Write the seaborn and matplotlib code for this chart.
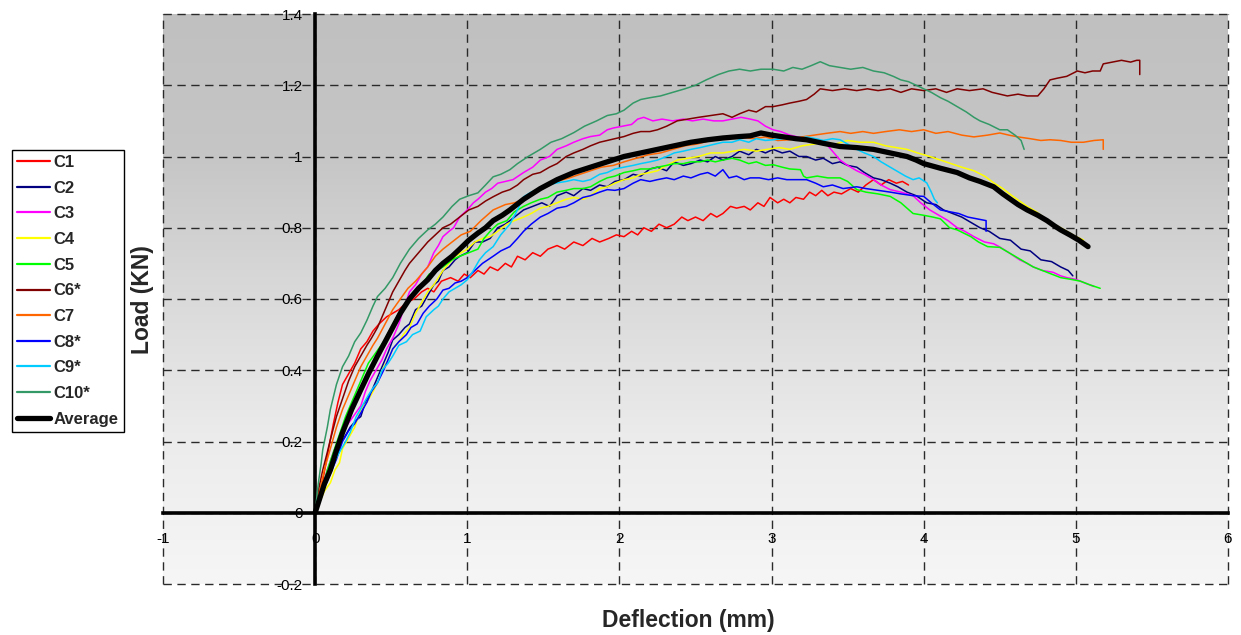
import numpy as np
import pandas as pd
import matplotlib
matplotlib.use("Agg")
import matplotlib.pyplot as plt
import seaborn as sns
from matplotlib.colors import LinearSegmentedColormap

sns.set_style("white")
plt.rcParams['font.family'] = ['Liberation Sans', 'DejaVu Sans']

# ---------------- data (deflection mm, load kN) ----------------
c1 = [(0,0),(0.02,0.05),(0.05,0.09),(0.08,0.16),(0.12,0.25),(0.15,0.31),(0.18,0.36),(0.22,0.39),(0.26,0.42),(0.30,0.46),(0.34,0.48),(0.38,0.51),(0.42,0.53),(0.47,0.55),(0.51,0.56),(0.55,0.57),(0.60,0.59),(0.65,0.60),(0.70,0.62),(0.74,0.63),(0.78,0.62),(0.83,0.65),(0.89,0.66),(0.94,0.65),(0.98,0.67),(1.02,0.66),(1.07,0.68),(1.11,0.67),(1.15,0.69),(1.20,0.68),(1.25,0.70),(1.29,0.69),(1.33,0.72),(1.38,0.71),(1.43,0.73),(1.48,0.72),(1.53,0.74),(1.59,0.75),(1.64,0.74),(1.70,0.76),(1.76,0.75),(1.82,0.77),(1.87,0.76),(1.93,0.77),(1.98,0.78),(2.03,0.775),(2.08,0.79),(2.12,0.78),(2.16,0.80),(2.21,0.79),(2.26,0.81),(2.31,0.80),(2.36,0.81),(2.41,0.83),(2.45,0.82),(2.50,0.83),(2.55,0.82),(2.60,0.84),(2.64,0.83),(2.68,0.84),(2.73,0.86),(2.77,0.855),(2.82,0.86),(2.86,0.85),(2.91,0.87),(2.95,0.86),(2.99,0.885),(3.04,0.87),(3.08,0.88),(3.12,0.87),(3.16,0.885),(3.21,0.88),(3.25,0.90),(3.29,0.89),(3.33,0.905),(3.37,0.89),(3.41,0.90),(3.46,0.895),(3.52,0.91),(3.57,0.90),(3.62,0.92),(3.67,0.935),(3.72,0.92),(3.77,0.935),(3.82,0.925),(3.86,0.93),(3.90,0.92)]
c2 = [(0,0),(0.03,0.05),(0.07,0.10),(0.11,0.15),(0.15,0.19),(0.19,0.21),(0.23,0.24),(0.27,0.26),(0.30,0.27),(0.33,0.31),(0.37,0.34),(0.41,0.38),(0.45,0.42),(0.48,0.45),(0.51,0.485),(0.55,0.50),(0.59,0.52),(0.62,0.53),(0.66,0.57),(0.70,0.58),(0.74,0.61),(0.78,0.64),(0.81,0.65),(0.84,0.68),(0.88,0.69),(0.92,0.71),(0.95,0.72),(1.00,0.73),(1.05,0.76),(1.10,0.76),(1.15,0.77),(1.20,0.80),(1.25,0.81),(1.31,0.83),(1.37,0.85),(1.43,0.86),(1.49,0.87),(1.54,0.86),(1.59,0.89),(1.65,0.90),(1.70,0.89),(1.76,0.91),(1.81,0.905),(1.87,0.92),(1.92,0.915),(1.97,0.93),(2.03,0.935),(2.09,0.95),(2.14,0.945),(2.20,0.965),(2.25,0.97),(2.31,0.96),(2.36,0.985),(2.42,0.975),(2.47,0.98),(2.53,0.99),(2.58,0.985),(2.63,1.0),(2.68,0.99),(2.74,1.0),(2.79,1.015),(2.85,1.005),(2.90,1.02),(2.96,1.01),(3.01,1.02),(3.07,1.01),(3.12,1.015),(3.18,1.0),(3.23,1.0),(3.29,0.99),(3.34,0.995),(3.40,0.98),(3.45,0.985),(3.50,0.975),(3.56,0.97),(3.61,0.955),(3.67,0.94),(3.72,0.935),(3.78,0.925),(3.83,0.915),(3.89,0.90),(3.95,0.89),(4.02,0.87),(4.08,0.865),(4.13,0.85),(4.19,0.84),(4.25,0.83),(4.31,0.815),(4.37,0.80),(4.43,0.79),(4.50,0.77),(4.57,0.765),(4.64,0.74),(4.70,0.735),(4.77,0.71),(4.84,0.705),(4.90,0.69),(4.95,0.68),(4.98,0.665)]
c3 = [(0,0),(0.04,0.06),(0.08,0.12),(0.12,0.17),(0.16,0.21),(0.20,0.24),(0.25,0.27),(0.30,0.30),(0.33,0.34),(0.36,0.37),(0.40,0.40),(0.44,0.43),(0.47,0.46),(0.51,0.49),(0.55,0.53),(0.58,0.57),(0.62,0.62),(0.66,0.64),(0.70,0.67),(0.74,0.69),(0.78,0.73),(0.81,0.75),(0.84,0.775),(0.88,0.79),(0.91,0.80),(0.95,0.83),(1.00,0.85),(1.04,0.87),(1.07,0.88),(1.12,0.90),(1.16,0.91),(1.20,0.925),(1.25,0.93),(1.30,0.935),(1.37,0.955),(1.43,0.97),(1.48,0.99),(1.54,1.0),(1.59,1.02),(1.65,1.03),(1.70,1.04),(1.76,1.05),(1.81,1.056),(1.87,1.06),(1.92,1.075),(1.96,1.08),(2.02,1.085),(2.08,1.09),(2.12,1.105),(2.16,1.11),(2.22,1.10),(2.28,1.105),(2.35,1.10),(2.42,1.105),(2.48,1.10),(2.55,1.105),(2.62,1.10),(2.68,1.10),(2.74,1.105),(2.80,1.11),(2.86,1.105),(2.91,1.10),(2.96,1.085),(3.01,1.075),(3.06,1.07),(3.12,1.06),(3.17,1.055),(3.23,1.05),(3.30,1.04),(3.37,1.03),(3.41,1.01),(3.45,0.99),(3.50,0.975),(3.56,0.96),(3.61,0.95),(3.67,0.935),(3.72,0.92),(3.78,0.907),(3.85,0.90),(3.93,0.89),(3.98,0.87),(4.04,0.85),(4.10,0.835),(4.16,0.82),(4.22,0.80),(4.27,0.79),(4.33,0.775),(4.40,0.76),(4.46,0.755),(4.50,0.746),(4.56,0.73),(4.63,0.71),(4.68,0.70),(4.72,0.69),(4.78,0.68),(4.85,0.675),(4.90,0.665),(4.94,0.66),(5.00,0.655),(5.06,0.645),(5.12,0.635)]
c4 = [(0,0),(0.03,0.03),(0.06,0.06),(0.10,0.084),(0.13,0.12),(0.16,0.14),(0.18,0.18),(0.22,0.21),(0.26,0.24),(0.30,0.29),(0.34,0.31),(0.38,0.34),(0.41,0.365),(0.44,0.40),(0.48,0.43),(0.51,0.46),(0.55,0.48),(0.58,0.50),(0.62,0.52),(0.66,0.56),(0.70,0.59),(0.74,0.62),(0.78,0.64),(0.81,0.66),(0.84,0.68),(0.88,0.70),(0.92,0.72),(0.96,0.73),(1.00,0.74),(1.05,0.76),(1.10,0.77),(1.15,0.775),(1.20,0.79),(1.26,0.81),(1.31,0.82),(1.37,0.83),(1.42,0.84),(1.48,0.855),(1.53,0.86),(1.59,0.87),(1.65,0.88),(1.70,0.885),(1.76,0.88),(1.81,0.89),(1.87,0.91),(1.92,0.915),(1.97,0.925),(2.03,0.935),(2.09,0.94),(2.14,0.95),(2.20,0.955),(2.25,0.96),(2.31,0.975),(2.38,0.99),(2.45,0.995),(2.52,1.0),(2.60,1.01),(2.68,1.01),(2.75,1.015),(2.82,1.02),(2.90,1.015),(2.97,1.02),(3.05,1.025),(3.12,1.02),(3.20,1.03),(3.28,1.035),(3.35,1.04),(3.42,1.035),(3.50,1.045),(3.58,1.04),(3.67,1.04),(3.75,1.03),(3.82,1.025),(3.89,1.02),(3.96,1.01),(4.04,1.0),(4.11,0.99),(4.18,0.98),(4.25,0.97),(4.33,0.96),(4.40,0.945),(4.46,0.926),(4.52,0.91),(4.58,0.89),(4.63,0.875),(4.68,0.86),(4.74,0.845),(4.80,0.825),(4.85,0.81),(4.90,0.80),(4.96,0.785),(5.00,0.775),(5.05,0.766)]
c5 = [(0,0),(0.04,0.06),(0.08,0.12),(0.12,0.17),(0.16,0.22),(0.20,0.27),(0.25,0.32),(0.30,0.37),(0.35,0.42),(0.40,0.45),(0.45,0.48),(0.50,0.52),(0.55,0.56),(0.60,0.59),(0.65,0.62),(0.70,0.64),(0.75,0.67),(0.80,0.68),(0.84,0.69),(0.90,0.71),(0.95,0.72),(1.01,0.73),(1.07,0.74),(1.11,0.77),(1.15,0.79),(1.20,0.81),(1.26,0.82),(1.31,0.845),(1.37,0.86),(1.42,0.87),(1.48,0.88),(1.53,0.885),(1.59,0.90),(1.65,0.905),(1.70,0.91),(1.76,0.91),(1.81,0.915),(1.87,0.93),(1.92,0.94),(1.97,0.945),(2.03,0.955),(2.09,0.96),(2.14,0.965),(2.20,0.965),(2.25,0.97),(2.31,0.975),(2.36,0.98),(2.42,0.98),(2.47,0.985),(2.53,0.985),(2.58,0.99),(2.63,0.985),(2.68,0.99),(2.74,0.995),(2.79,0.99),(2.85,0.98),(2.90,0.985),(2.96,0.975),(3.01,0.977),(3.07,0.97),(3.12,0.965),(3.19,0.963),(3.21,0.945),(3.23,0.94),(3.30,0.945),(3.37,0.94),(3.45,0.94),(3.50,0.93),(3.56,0.907),(3.62,0.90),(3.70,0.895),(3.78,0.888),(3.85,0.87),(3.93,0.84),(4.00,0.835),(4.06,0.83),(4.11,0.825),(4.17,0.80),(4.22,0.794),(4.31,0.775),(4.36,0.76),(4.42,0.747),(4.50,0.745),(4.56,0.73),(4.62,0.715),(4.68,0.70),(4.72,0.69),(4.78,0.68),(4.84,0.67),(4.90,0.66),(4.97,0.655),(5.03,0.65),(5.09,0.64),(5.16,0.63)]
c6 = [(0,0),(0.02,0.06),(0.05,0.12),(0.08,0.17),(0.10,0.205),(0.14,0.27),(0.18,0.32),(0.22,0.37),(0.26,0.41),(0.30,0.44),(0.34,0.47),(0.37,0.49),(0.41,0.52),(0.45,0.56),(0.48,0.59),(0.51,0.62),(0.55,0.65),(0.59,0.68),(0.62,0.70),(0.66,0.72),(0.70,0.74),(0.74,0.76),(0.79,0.78),(0.84,0.80),(0.89,0.81),(0.95,0.83),(1.01,0.85),(1.07,0.86),(1.12,0.875),(1.17,0.887),(1.23,0.90),(1.28,0.907),(1.33,0.92),(1.37,0.935),(1.43,0.95),(1.48,0.955),(1.54,0.97),(1.59,0.98),(1.65,1.0),(1.70,1.01),(1.76,1.02),(1.81,1.03),(1.87,1.04),(1.92,1.045),(1.97,1.05),(2.03,1.056),(2.09,1.065),(2.14,1.07),(2.20,1.07),(2.25,1.075),(2.31,1.085),(2.38,1.10),(2.45,1.105),(2.52,1.11),(2.60,1.115),(2.68,1.12),(2.74,1.11),(2.79,1.12),(2.85,1.13),(2.90,1.125),(2.96,1.14),(3.01,1.14),(3.07,1.145),(3.12,1.15),(3.18,1.155),(3.23,1.16),(3.28,1.175),(3.32,1.19),(3.40,1.185),(3.48,1.19),(3.56,1.185),(3.63,1.19),(3.70,1.185),(3.78,1.19),(3.85,1.18),(3.92,1.19),(4.00,1.185),(4.08,1.19),(4.15,1.18),(4.22,1.19),(4.30,1.185),(4.39,1.19),(4.45,1.18),(4.50,1.175),(4.55,1.17),(4.62,1.175),(4.68,1.17),(4.75,1.17),(4.79,1.19),(4.83,1.215),(4.88,1.22),(4.94,1.225),(5.01,1.24),(5.06,1.235),(5.11,1.24),(5.16,1.24),(5.18,1.26),(5.24,1.265),(5.30,1.27),(5.36,1.265),(5.40,1.27),(5.42,1.27),(5.42,1.23)]
c7 = [(0,0),(0.03,0.06),(0.06,0.12),(0.10,0.18),(0.14,0.24),(0.18,0.29),(0.22,0.33),(0.26,0.37),(0.30,0.41),(0.34,0.44),(0.38,0.47),(0.41,0.49),(0.46,0.53),(0.51,0.57),(0.56,0.60),(0.61,0.63),(0.66,0.65),(0.70,0.67),(0.74,0.69),(0.79,0.72),(0.84,0.74),(0.90,0.76),(0.96,0.78),(1.02,0.79),(1.09,0.82),(1.17,0.85),(1.25,0.865),(1.31,0.87),(1.37,0.88),(1.45,0.90),(1.52,0.915),(1.59,0.93),(1.67,0.94),(1.74,0.95),(1.81,0.96),(1.88,0.97),(1.96,0.975),(2.03,0.985),(2.11,0.995),(2.19,1.005),(2.27,1.01),(2.35,1.02),(2.43,1.03),(2.51,1.035),(2.60,1.045),(2.68,1.05),(2.79,1.055),(2.88,1.05),(2.96,1.055),(3.04,1.045),(3.12,1.047),(3.20,1.055),(3.28,1.06),(3.36,1.065),(3.45,1.07),(3.52,1.065),(3.60,1.07),(3.67,1.065),(3.75,1.07),(3.84,1.075),(3.92,1.07),(4.00,1.075),(4.08,1.065),(4.16,1.07),(4.25,1.06),(4.33,1.055),(4.42,1.06),(4.50,1.066),(4.56,1.06),(4.62,1.055),(4.70,1.05),(4.77,1.045),(4.83,1.047),(4.90,1.045),(4.97,1.04),(5.05,1.04),(5.12,1.045),(5.18,1.047),(5.18,1.02)]
c8 = [(0,0),(0.03,0.03),(0.06,0.07),(0.10,0.11),(0.14,0.15),(0.18,0.20),(0.22,0.23),(0.26,0.25),(0.30,0.28),(0.34,0.31),(0.37,0.34),(0.41,0.365),(0.45,0.40),(0.48,0.43),(0.51,0.46),(0.55,0.48),(0.60,0.50),(0.63,0.52),(0.67,0.53),(0.71,0.56),(0.75,0.58),(0.80,0.60),(0.84,0.625),(0.88,0.63),(0.92,0.645),(0.96,0.65),(1.00,0.66),(1.05,0.68),(1.10,0.70),(1.17,0.72),(1.22,0.735),(1.28,0.747),(1.33,0.77),(1.37,0.79),(1.42,0.81),(1.48,0.83),(1.53,0.84),(1.59,0.855),(1.65,0.86),(1.70,0.87),(1.76,0.885),(1.81,0.89),(1.87,0.90),(1.92,0.907),(1.97,0.905),(2.03,0.91),(2.09,0.925),(2.14,0.935),(2.20,0.93),(2.25,0.935),(2.31,0.94),(2.36,0.935),(2.42,0.945),(2.47,0.94),(2.53,0.95),(2.58,0.955),(2.63,0.945),(2.68,0.963),(2.72,0.94),(2.77,0.945),(2.82,0.935),(2.86,0.94),(2.92,0.94),(2.98,0.935),(3.04,0.94),(3.10,0.935),(3.16,0.935),(3.23,0.935),(3.29,0.925),(3.34,0.915),(3.40,0.92),(3.47,0.91),(3.56,0.915),(3.62,0.91),(3.70,0.905),(3.78,0.90),(3.85,0.895),(3.93,0.89),(4.00,0.888),(4.05,0.87),(4.11,0.85),(4.17,0.845),(4.23,0.84),(4.29,0.83),(4.35,0.825),(4.41,0.82),(4.41,0.79)]
c9 = [(0,0),(0.04,0.05),(0.08,0.10),(0.12,0.14),(0.16,0.17),(0.20,0.20),(0.23,0.225),(0.27,0.27),(0.31,0.30),(0.35,0.33),(0.38,0.35),(0.41,0.365),(0.44,0.40),(0.48,0.42),(0.51,0.44),(0.55,0.47),(0.60,0.48),(0.64,0.50),(0.69,0.51),(0.73,0.55),(0.78,0.57),(0.81,0.58),(0.84,0.60),(0.88,0.62),(0.92,0.63),(0.96,0.64),(1.00,0.654),(1.04,0.68),(1.08,0.71),(1.12,0.73),(1.17,0.747),(1.22,0.78),(1.28,0.81),(1.33,0.85),(1.37,0.887),(1.42,0.90),(1.48,0.91),(1.53,0.92),(1.59,0.926),(1.65,0.93),(1.70,0.935),(1.76,0.93),(1.81,0.935),(1.87,0.95),(1.92,0.955),(1.97,0.965),(2.03,0.97),(2.09,0.975),(2.14,0.98),(2.20,0.985),(2.25,0.99),(2.31,1.0),(2.36,1.01),(2.42,1.015),(2.47,1.02),(2.53,1.025),(2.58,1.03),(2.63,1.035),(2.68,1.04),(2.74,1.04),(2.79,1.047),(2.85,1.04),(2.90,1.05),(2.96,1.045),(3.01,1.047),(3.07,1.05),(3.12,1.055),(3.18,1.05),(3.23,1.055),(3.29,1.05),(3.34,1.045),(3.40,1.05),(3.45,1.047),(3.50,1.035),(3.56,1.02),(3.61,1.01),(3.67,1.0),(3.72,0.985),(3.78,0.97),(3.84,0.955),(3.88,0.945),(3.93,0.935),(3.97,0.94),(4.02,0.926),(4.05,0.90),(4.07,0.88),(4.09,0.87)]
c10 = [(0,0),(0.02,0.08),(0.04,0.14),(0.05,0.177),(0.08,0.24),(0.10,0.29),(0.14,0.36),(0.18,0.41),(0.22,0.44),(0.26,0.48),(0.30,0.505),(0.34,0.54),(0.38,0.58),(0.41,0.607),(0.46,0.63),(0.51,0.66),(0.56,0.70),(0.62,0.74),(0.68,0.77),(0.74,0.794),(0.79,0.81),(0.84,0.83),(0.90,0.86),(0.95,0.88),(1.01,0.89),(1.07,0.898),(1.12,0.92),(1.17,0.943),(1.22,0.95),(1.28,0.963),(1.33,0.98),(1.40,1.0),(1.48,1.02),(1.55,1.04),(1.62,1.05),(1.70,1.067),(1.77,1.085),(1.85,1.10),(1.92,1.115),(1.98,1.12),(2.03,1.13),(2.09,1.15),(2.14,1.16),(2.20,1.165),(2.27,1.17),(2.35,1.18),(2.43,1.19),(2.50,1.20),(2.57,1.215),(2.65,1.23),(2.72,1.24),(2.79,1.245),(2.86,1.24),(2.93,1.245),(3.01,1.245),(3.08,1.24),(3.14,1.25),(3.20,1.245),(3.26,1.255),(3.32,1.266),(3.38,1.255),(3.45,1.25),(3.52,1.245),(3.60,1.25),(3.67,1.24),(3.74,1.235),(3.80,1.225),(3.85,1.215),(3.90,1.21),(3.95,1.20),(4.00,1.19),(4.05,1.18),(4.11,1.165),(4.16,1.155),(4.22,1.14),(4.28,1.125),(4.33,1.11),(4.37,1.10),(4.43,1.09),(4.50,1.075),(4.55,1.075),(4.60,1.06),(4.64,1.045),(4.66,1.02)]
average = [(0,0),(0.03,0.04),(0.06,0.08),(0.10,0.12),(0.14,0.175),(0.18,0.225),(0.24,0.29),(0.30,0.345),(0.35,0.39),(0.41,0.44),(0.46,0.48),(0.51,0.52),(0.56,0.56),(0.62,0.60),(0.68,0.63),(0.74,0.654),(0.79,0.68),(0.84,0.70),(0.90,0.72),(0.95,0.74),(1.01,0.765),(1.07,0.785),(1.12,0.80),(1.17,0.82),(1.23,0.835),(1.28,0.85),(1.37,0.88),(1.48,0.91),(1.59,0.935),(1.70,0.955),(1.81,0.97),(1.92,0.985),(2.03,1.0),(2.14,1.01),(2.25,1.02),(2.36,1.03),(2.47,1.04),(2.58,1.047),(2.68,1.052),(2.79,1.056),(2.86,1.058),(2.93,1.066),(3.00,1.06),(3.08,1.055),(3.16,1.05),(3.23,1.047),(3.34,1.037),(3.45,1.028),(3.56,1.025),(3.67,1.02),(3.78,1.01),(3.89,1.0),(3.95,0.99),(4.00,0.98),(4.11,0.967),(4.22,0.955),(4.30,0.94),(4.37,0.93),(4.46,0.915),(4.52,0.895),(4.57,0.88),(4.62,0.865),(4.68,0.85),(4.75,0.835),(4.81,0.82),(4.86,0.805),(4.90,0.794),(4.96,0.78),(5.02,0.765),(5.08,0.747)]

names = ["C1", "C2", "C3", "C4", "C5", "C6*", "C7", "C8*", "C9*", "C10*", "Average"]
series = [c1, c2, c3, c4, c5, c6, c7, c8, c9, c10, average]
colors = ["#ff0000", "#000080", "#ff00ff", "#ffff00", "#00ff00", "#800000",
          "#ff6600", "#0000ff", "#00ccff", "#339966", "#000000"]
x_ticks = [-1, 0, 1, 2, 3, 4, 5, 6]
y_ticks = [-0.2, 0, 0.2, 0.4, 0.6, 0.8, 1.0, 1.2, 1.4]
y_tick_labels = ["-0.2", "0", "0.2", "0.4", "0.6", "0.8", "1", "1.2", "1.4"]

# ---------------- figure ----------------
W, H = 1241, 635
fig = plt.figure(figsize=(W / 100, H / 100), dpi=100)
ax = fig.add_axes([163 / W, 1 - 584 / H, (1228 - 163) / W, (584 - 14) / H])
ax.set_xlim(-1, 6)
ax.set_ylim(-0.2, 1.4)

# gradient background
bg = LinearSegmentedColormap.from_list(
    "bg", [(0, "#f6f6f6"), (0.25, "#ececec"), (0.5, "#dadada"), (0.75, "#c6c6c6"), (1, "#c0c0c0")])
grad = np.linspace(0, 1, 256).reshape(-1, 1)
ax.imshow(grad, extent=(-1, 6, -0.2, 1.4), origin="lower", aspect="auto", cmap=bg, zorder=0)

for name, col, pts in zip(names, colors, series):
    df = pd.DataFrame(pts, columns=["Deflection", "Load"])
    lw = 3.8 if name == "Average" else 1.1
    sns.lineplot(data=df, x="Deflection", y="Load", sort=False, estimator=None,
                 color=col, linewidth=lw, label=name, ax=ax, zorder=3)

# axes through origin
for s in ["top", "right"]:
    ax.spines[s].set_visible(False)
ax.spines["left"].set_position(("data", 0))
ax.spines["bottom"].set_position(("data", 0))
for s in ["left", "bottom"]:
    ax.spines[s].set_linewidth(2.6)
    ax.spines[s].set_color("black")
    ax.spines[s].set_zorder(2.5)

ax.set_xticks(x_ticks)
ax.set_xticklabels([str(v) for v in x_ticks])
ax.set_yticks(y_ticks)
ax.set_yticklabels(y_tick_labels)
ax.tick_params(axis="both", direction="out", length=3, width=2.6, labelsize=11, colors="black")
ax.tick_params(axis="x", pad=11)
ax.tick_params(axis="y", pad=6)
ax.set_xlabel("")
ax.set_ylabel("")

ax.grid(True, linestyle=(0, (6, 4)), color="#2a2a2a", linewidth=1, zorder=1)
ax.set_axisbelow(True)
for gl in ax.xaxis.get_gridlines() + ax.yaxis.get_gridlines():
    gl.set_clip_on(False)

fig.text(688 / W, 1 - 620 / H, "Deflection (mm)", ha="center", va="center",
         fontsize=16.5, fontweight="bold")
fig.text(143 / W, 1 - 300 / H, "Load (KN)", rotation=90, ha="center", va="center",
         fontsize=16.5, fontweight="bold")

handles, labels = ax.get_legend_handles_labels()
if ax.get_legend() is not None:
    ax.get_legend().remove()
leg = fig.legend(handles, labels, loc="upper left", bbox_to_anchor=(12 / W, 1 - 150 / H),
                 frameon=True, fancybox=False, edgecolor="black", framealpha=1,
                 prop={"weight": "bold", "size": 12}, handlelength=2.0,
                 labelspacing=0.64, borderpad=0.3, handletextpad=0.2, borderaxespad=0)
leg.get_frame().set_linewidth(1.0)
for h in leg.get_lines():
    if h.get_linewidth() < 2:
        h.set_linewidth(1.6)

fig.savefig("out.png", dpi=100)
